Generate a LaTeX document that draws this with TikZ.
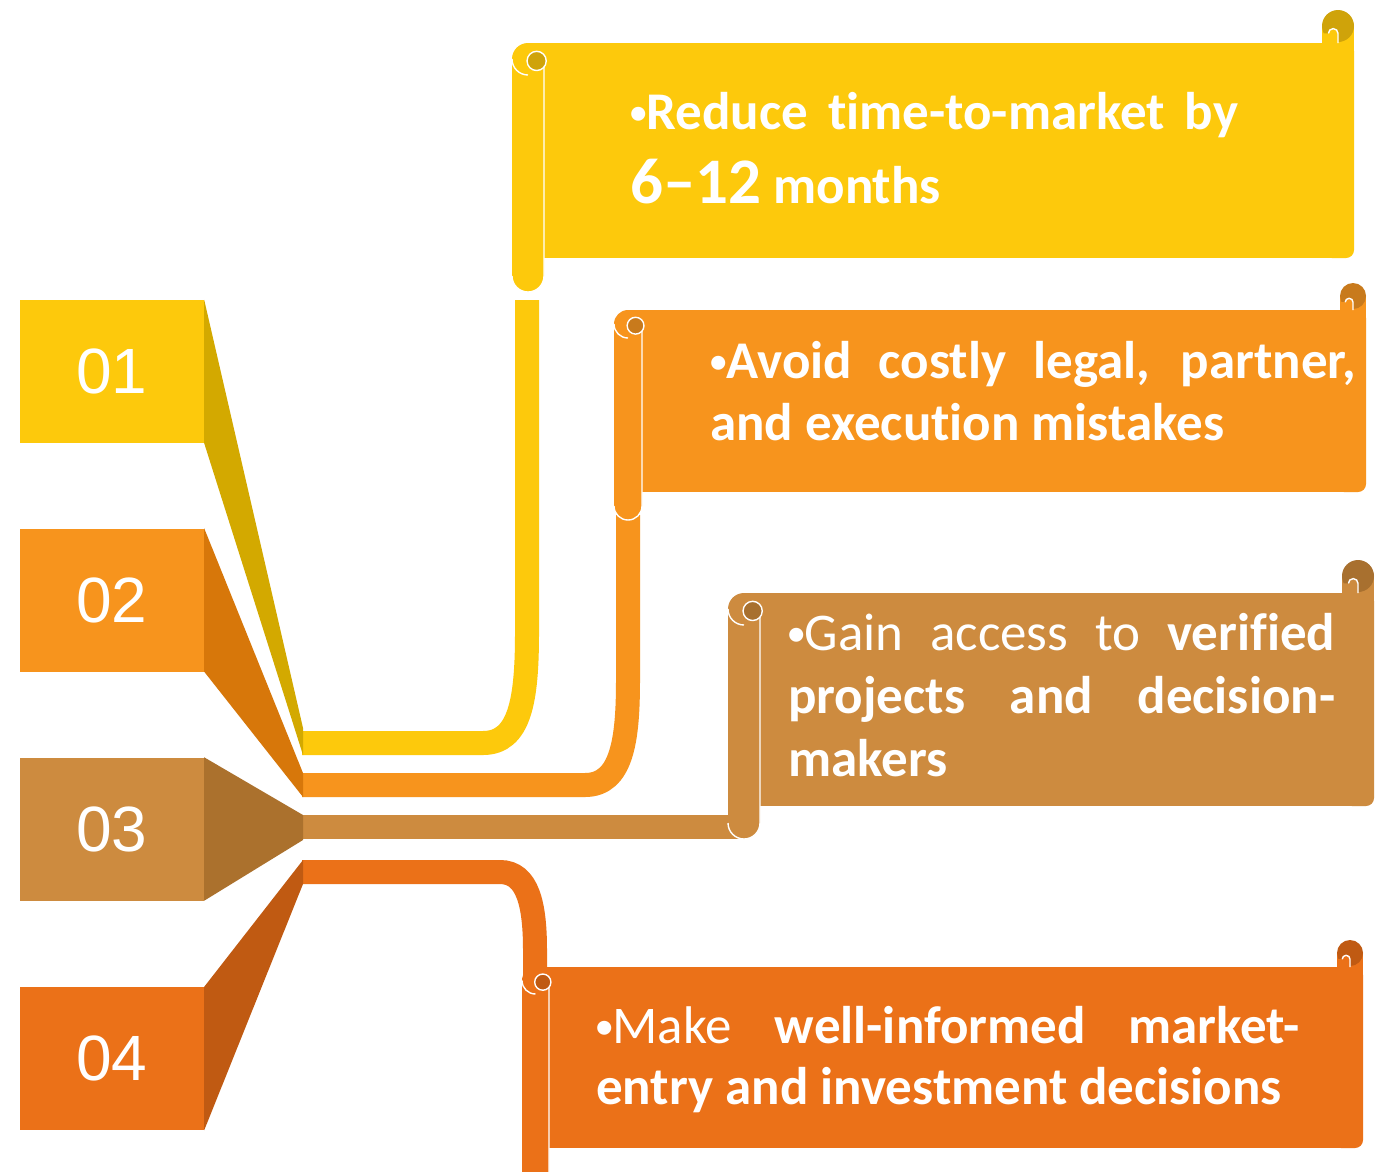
\documentclass[tikz,border=0pt]{standalone}
\usepackage{fontspec}
\setmainfont{Carlito}[Ligatures={NoCommon}]
\newfontfamily\numfont{Liberation Sans}
\definecolor{ylw}{HTML}{FDC90C}
\definecolor{ylwD}{HTML}{D3A900}
\definecolor{ylwC}{HTML}{CFA30A}
\definecolor{org}{HTML}{F7941D}
\definecolor{orgD}{HTML}{D7770A}
\definecolor{orgC}{HTML}{C87A1C}
\definecolor{tan}{HTML}{CD8B3F}
\definecolor{tanD}{HTML}{AB712D}
\definecolor{tanC}{HTML}{A8702F}
\definecolor{red}{HTML}{EB7118}
\definecolor{redD}{HTML}{C05A12}
\definecolor{redC}{HTML}{C05A12}
\newcommand\bul{\raisebox{6pt}{\fontsize{33}{33}\selectfont\textbullet}}
\newcommand\scrollshape[9]{%
\pgfmathsetmacro\sL{#1}\pgfmathsetmacro\sW{#2}\pgfmathsetmacro\sT{#3}%
\pgfmathsetmacro\sP{#4}\pgfmathsetmacro\sB{#5}\pgfmathsetmacro\sR{#6}%
\pgfmathsetmacro\sr{#7}\pgfmathsetmacro\sh{#2/2}\pgfmathsetmacro\tr{0.3*#7}%
\pgfmathsetmacro\hcx{#1+0.77*#2}\pgfmathsetmacro\hcy{#3+0.56*#2}\pgfmathsetmacro\hcr{0.3*#2}%
\fill[#8] (\sR-2*\sr,\sT-\sr-1) rectangle (\sR,\sT+12);
\fill[#8] (\sL+\sh,\sT) rectangle (\sR-12,\sB);
\fill[#8,rounded corners=8pt] (\sR-30,\sT) rectangle (\sR,\sB);
\fill[#9] (\sR-\sr,\sT-\sr-1) circle[radius=\sr pt];
\fill[#8] (\sR-2*\sr,\sT) -- (\sR-2*\sr,\sT-0.6*\sr) -- (\sR-1.6*\sr,\sT-0.6*\sr)
   arc[start angle=180,end angle=0,radius=\tr pt] -- (\sR-\sr,\sT) -- cycle;
\draw[wline] (\sR-1.6*\sr,\sT-0.6*\sr) arc[start angle=180,end angle=0,radius=\tr pt] -- (\sR-\sr,\sT);
\fill[#8,rounded corners=\sh pt] (\sL,\sT) rectangle (\sL+\sW,\sP);
\draw[wline] (\sL+\sW,\sT+\sh) -- (\sL+\sW,\sP-\sh) arc[start angle=0,end angle=-180,radius=\sh pt];
\draw[wline] (\sL,\sT+\sh) arc[start angle=180,end angle=270,radius=\sh pt];
\fill[#9] (\hcx,\hcy) circle[radius=\hcr pt];
\draw[wline] (\hcx,\hcy) circle[radius=\hcr pt];
}
\tikzset{
  wline/.style={white,line width=1.4pt},
  band/.style={line width=24pt},
  numbox/.style={minimum width=184pt,minimum height=143pt,inner sep=0pt,text=white,
     font=\numfont\fontsize{64}{64}\selectfont},
  txt/.style={text=white,inner sep=0pt,anchor=base west,font=\fontsize{53}{63}\selectfont\bfseries}
}
\begin{document}
\begin{tikzpicture}[x=1pt,y=-1pt]
\useasboundingbox[fill=white] (0,0) rectangle (1391,1171);
% coordinates of band ends
\coordinate (w1) at (302,743);
\coordinate (w2) at (302,785);
\coordinate (w3) at (302,827);
\coordinate (w4) at (302,872);
\coordinate (p1) at (527,300);
\coordinate (p2) at (628,515);
\coordinate (p3) at (744,827);
\coordinate (p4) at (535,975);
% bands
\draw[band,ylw] (w1) -- (483,743) .. controls (520,743) and (527,700) .. (527,633) -- (p1);
\draw[band,org] (w2) -- (585,785) .. controls (622,785) and (628,740) .. (628,680) -- (p2);
\draw[band,tan] (w3) -- (p3);
\draw[band,red] (w4) -- (500,872) .. controls (528,872) and (535,905) .. (535,950) -- (p4);
% number boxes
\node[numbox,fill=ylw] (b1) at (112,371.5) {01};
\node[numbox,fill=org] (b2) at (112,600) {02};
\node[numbox,fill=tan] (b3) at (112,829) {03};
\node[numbox,fill=red] (b4) at (112,1058.5) {04};
% wedges
\fill[ylwD] (b1.north east) -- (303,728) -- (303,755) -- (b1.south east) -- cycle;
\fill[orgD] (b2.north east) -- (303,773) -- (303,797) -- (b2.south east) -- cycle;
\fill[tanD] (b3.north east) -- (303,815) -- (303,840) -- (b3.south east) -- cycle;
\fill[redD] (b4.north east) -- (303,860) -- (303,884) -- (b4.south east) -- cycle;
% scrolls
\scrollshape{512}{32}{43}{292}{258}{1354}{16}{ylw}{ylwC}
\scrollshape{614}{28}{310}{520}{492}{1366}{13}{org}{orgC}
\scrollshape{728}{32}{593}{839}{806}{1374}{16}{tan}{tanC}
\scrollshape{522}{27}{967}{1200}{1148}{1363}{13}{red}{redC}
% texts
\node[txt] (t1a) at (630,129) {\makebox[608pt][s]{\bul Reduce time-to-market by}};
\node[txt] (t1b) at (630,203) {{\fontsize{65}{70}\selectfont 6–12} months};
\node[txt] (t2a) at (710,378) {\makebox[646pt][s]{\bul Avoid costly legal, partner,}};
\node[txt] (t2b) at (710,440) {and execution mistakes};
\node[txt] (t3a) at (788,650) {\makebox[547pt][s]{\bul\mdseries Gain access to \bfseries verified}};
\node[txt] (t3b) at (788,713) {\makebox[547pt][s]{projects and decision-}};
\node[txt] (t3c) at (788,776) {makers};
\node[txt] (t4a) at (596,1043) {\makebox[704pt][s]{\bul\mdseries Make \bfseries well-informed market-}};
\node[txt] (t4b) at (596,1104) {entry and investment decisions};
\end{tikzpicture}
\end{document}
